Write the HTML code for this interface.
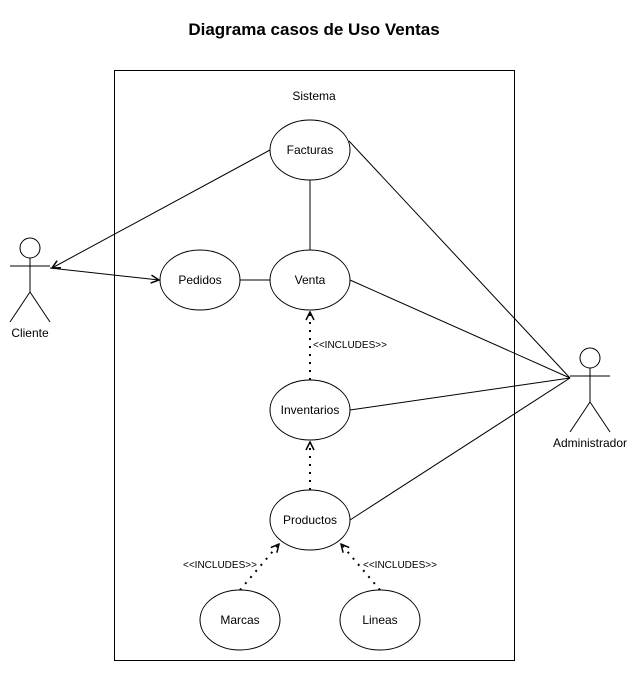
<!DOCTYPE html>
<html><head><meta charset="utf-8"><style>
body{margin:0;background:#fff;}
svg text{font-family:"Liberation Sans",Arial,sans-serif;fill:#000;}
</style></head><body>
<svg width="638" height="671" viewBox="0 0 638 671" xmlns="http://www.w3.org/2000/svg">
<defs>
<marker id="a" markerWidth="10" markerHeight="10" refX="9" refY="5" orient="auto" markerUnits="userSpaceOnUse">
<path d="M1,1 L9,5 L1,9" fill="none" stroke="#000" stroke-width="1.5"/></marker>
</defs>
<text x="314" y="35" font-size="17" font-weight="bold" text-anchor="middle">Diagrama casos de Uso Ventas</text>
<rect x="114.5" y="70.5" width="400" height="590" fill="none" stroke="#000"/>
<text x="314" y="100" font-size="12" text-anchor="middle">Sistema</text>
<g stroke="#000" fill="none" stroke-width="1">
<line x1="270" y1="150" x2="52" y2="268" marker-end="url(#a)"/>
<line x1="50" y1="268" x2="159" y2="280" marker-end="url(#a)"/>
<line x1="240" y1="280" x2="270" y2="280"/>
<line x1="310" y1="180" x2="310" y2="250"/>
<line x1="570" y1="378" x2="349" y2="141"/>
<line x1="570" y1="378" x2="350" y2="280"/>
<line x1="570" y1="378" x2="350" y2="410"/>
<line x1="570" y1="378" x2="350" y2="520"/>
</g>
<g stroke="#000" fill="none" stroke-width="2" stroke-dasharray="2,6">
<line x1="310" y1="380" x2="310" y2="312" marker-end="url(#a)"/>
<line x1="310" y1="490" x2="310" y2="442" marker-end="url(#a)"/>
<line x1="240" y1="590" x2="279" y2="544" marker-end="url(#a)"/>
<line x1="380" y1="590" x2="341" y2="544" marker-end="url(#a)"/>
</g>
<g stroke="#000" fill="#fff">
<ellipse cx="310" cy="150" rx="40" ry="30"/>
<ellipse cx="200" cy="280" rx="40" ry="30"/>
<ellipse cx="310" cy="280" rx="40" ry="30"/>
<ellipse cx="310" cy="410" rx="40" ry="30"/>
<ellipse cx="310" cy="520" rx="40" ry="30"/>
<ellipse cx="240" cy="620" rx="40" ry="30"/>
<ellipse cx="380" cy="620" rx="40" ry="30"/>
</g>
<g font-size="12" text-anchor="middle">
<text x="310" y="154">Facturas</text>
<text x="200" y="284">Pedidos</text>
<text x="310" y="284">Venta</text>
<text x="310" y="414">Inventarios</text>
<text x="310" y="524">Productos</text>
<text x="240" y="624">Marcas</text>
<text x="380" y="624">Lineas</text>
</g>
<g font-size="10">
<text x="313" y="348">&lt;&lt;INCLUDES&gt;&gt;</text>
<text x="183" y="568">&lt;&lt;INCLUDES&gt;&gt;</text>
<text x="363" y="568">&lt;&lt;INCLUDES&gt;&gt;</text>
</g>
<g stroke="#000" fill="#fff">
<circle cx="30" cy="248" r="10"/>
<path d="M10,266 H50 M30,258 V292 L10,322 M30,292 L50,322" fill="none"/>
<circle cx="590" cy="358" r="10"/>
<path d="M570,376 H610 M590,368 V402 L570,432 M590,402 L610,432" fill="none"/>
</g>
<text x="30" y="337" font-size="12" text-anchor="middle">Cliente</text>
<text x="590" y="447" font-size="12" text-anchor="middle">Administrador</text>
</svg>
</body></html>
